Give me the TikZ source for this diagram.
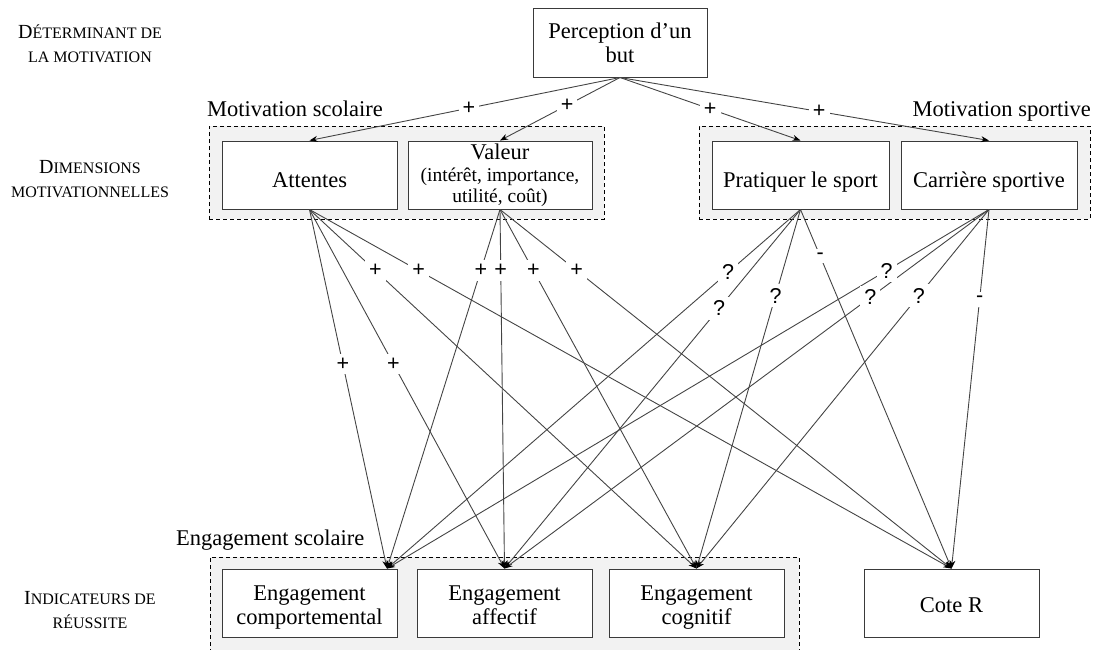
\documentclass[tikz,border=0pt]{standalone}
\usepackage{fontspec}
\setmainfont{Liberation Serif}
\newfontfamily\signfont{Liberation Sans}
\usetikzlibrary{arrows.meta}

\definecolor{boxline}{HTML}{3A3A3A}
\definecolor{linkgray}{HTML}{444444}
\definecolor{groupfill}{HTML}{F2F2F2}

\newcommand\mainsize{\fontsize{22.5}{24}\selectfont}
\newcommand\capbig[1]{{\fontsize{20}{24}\selectfont #1}}
% invisible struts that set where the text sits inside a box
\newcommand\lift[1]{\rule{0pt}{#1}}
\newcommand\sink{\vphantom{g}}

\tikzset{
  box/.style={draw=boxline, fill=white, line width=1pt, inner sep=0pt,
    align=center, font=\mainsize},
  group/.style={draw=black, dashed, dash pattern=on 4pt off 3pt,
    fill=groupfill, line width=0.8pt, inner sep=0pt},
  link/.style={draw=linkgray, line width=0.9pt,
    -{Stealth[length=8pt,width=6pt,black]}},
  sign/.style={fill=white, inner sep=4pt, text=black,
    font=\signfont\fontsize{21.5}{21.5}\selectfont},
  heading/.style={inner sep=0pt, font=\mainsize},
  level/.style={inner sep=0pt, align=center,
    font=\fontsize{16}{24}\selectfont}
}

\begin{document}
\begin{tikzpicture}[x=1pt, y=-1pt]
\useasboundingbox (0,0) rectangle (1096,649);

% row labels
\node[level] (lv1) at (90,44) {\capbig{D}ÉTERMINANT DE\\LA MOTIVATION};
\node[level] (lv2) at (90,179) {\capbig{D}IMENSIONS\\MOTIVATIONNELLES};
\node[level] (lv3) at (90,610) {\capbig{I}NDICATEURS DE\\RÉUSSITE};

% dashed groups
\node[group, minimum width=395pt, minimum height=93pt] (gsco) at (406.5,172.5) {};
\node[group, minimum width=391pt, minimum height=93pt] (gspo) at (894.5,172.5) {};
\node[group, minimum width=589pt, minimum height=95pt] (geng) at (504.5,604.5) {};

\node[heading, anchor=base west] (tsco) at (207,116) {Motivation scolaire};
\node[heading, anchor=base east] (tspo) at (1091,116) {Motivation sportive};
\node[heading, anchor=base west] (teng) at (176,545) {Engagement scolaire};

% boxes
\node[box, minimum width=174pt, minimum height=69pt] (per) at (620,42.5) {Perception d’un\\but};

\node[box, minimum width=175pt, minimum height=68pt] (att) at (309.5,175) {\lift{30pt}Attentes\sink};
\node[box, minimum width=184pt, minimum height=68pt, font=\fontsize{19.5}{21}\selectfont] (val) at (500,175)
  {{\mainsize Valeur}\\[1pt](intérêt, importance,\\utilité, coût)};
\node[box, minimum width=177pt, minimum height=68pt] (pra) at (800.5,175) {\lift{30pt}Pratiquer le sport\sink};
\node[box, minimum width=176pt, minimum height=68pt] (car) at (989,175) {\lift{30pt}Carrière sportive\sink};

\node[box, minimum width=175pt, minimum height=68pt] (comp) at (309.5,603) {\lift{23pt}Engagement\\comportemental\sink};
\node[box, minimum width=175pt, minimum height=68pt] (aff) at (504.5,603) {\lift{23pt}Engagement\\affectif\sink};
\node[box, minimum width=175pt, minimum height=68pt] (cog) at (696.5,603) {\lift{23pt}Engagement\\cognitif\sink};
\node[box, minimum width=175pt, minimum height=68pt] (cote) at (951.5,603) {\lift{23pt}Cote R\sink};

\coordinate (comptip) at ([xshift=77.5pt]comp.north);

% goal perception to motivational dimensions
\draw[link] (per.south) -- coordinate[pos=0.487] (p1) (att.north);
\draw[link] (per.south) -- coordinate[pos=0.44] (p2) (val.north);
\draw[link] (per.south) -- coordinate[pos=0.50] (p3) (pra.north);
\draw[link] (per.south) -- coordinate[pos=0.54] (p4) (car.north);

% expectancies
\draw[link] (att.south) -- coordinate[pos=0.43] (a1) (comptip);
\draw[link] (att.south) -- coordinate[pos=0.43] (a2) (aff.north);
\draw[link] (att.south) -- coordinate[pos=0.17] (a3) (cog.north);
\draw[link] (att.south) -- coordinate[pos=0.17] (a4) (cote.north);

% value
\draw[link] (val.south) -- coordinate[pos=0.17] (v1) (comptip);
\draw[link] (val.south) -- coordinate[pos=0.17] (v2) (aff.north);
\draw[link] (val.south) -- coordinate[pos=0.17] (v3) (cog.north);
\draw[link] (val.south) -- coordinate[pos=0.17] (v4) (cote.north);

% practising the sport
\draw[link] (pra.south) -- coordinate[pos=0.175] (r1) (comptip);
\draw[link] (pra.south) -- coordinate[pos=0.275] (r2) (aff.north);
\draw[link] (pra.south) -- coordinate[pos=0.24] (r3) (cog.north);
\draw[link] (pra.south) -- coordinate[pos=0.13] (r4) (cote.north);

% sports career
\draw[link] (car.south) -- coordinate[pos=0.17] (c1) (comptip);
\draw[link] (car.south) -- coordinate[pos=0.245] (c2) (aff.north);
\draw[link] (car.south) -- coordinate[pos=0.24] (c3) (cog.north);
\draw[link] (car.south) -- coordinate[pos=0.25] (c4) (cote.north);

% signs on the links
\foreach \c in {p1,p2,p3,p4,a1,a2,a3,a4,v1,v2,v3,v4}
  \node[sign] at (\c) {+};
\foreach \c in {r1,r2,r3,c1,c2,c3}
  \node[sign] at (\c) {?};
\foreach \c in {r4,c4}
  \node[sign] at (\c) {-};
\end{tikzpicture}
\end{document}
